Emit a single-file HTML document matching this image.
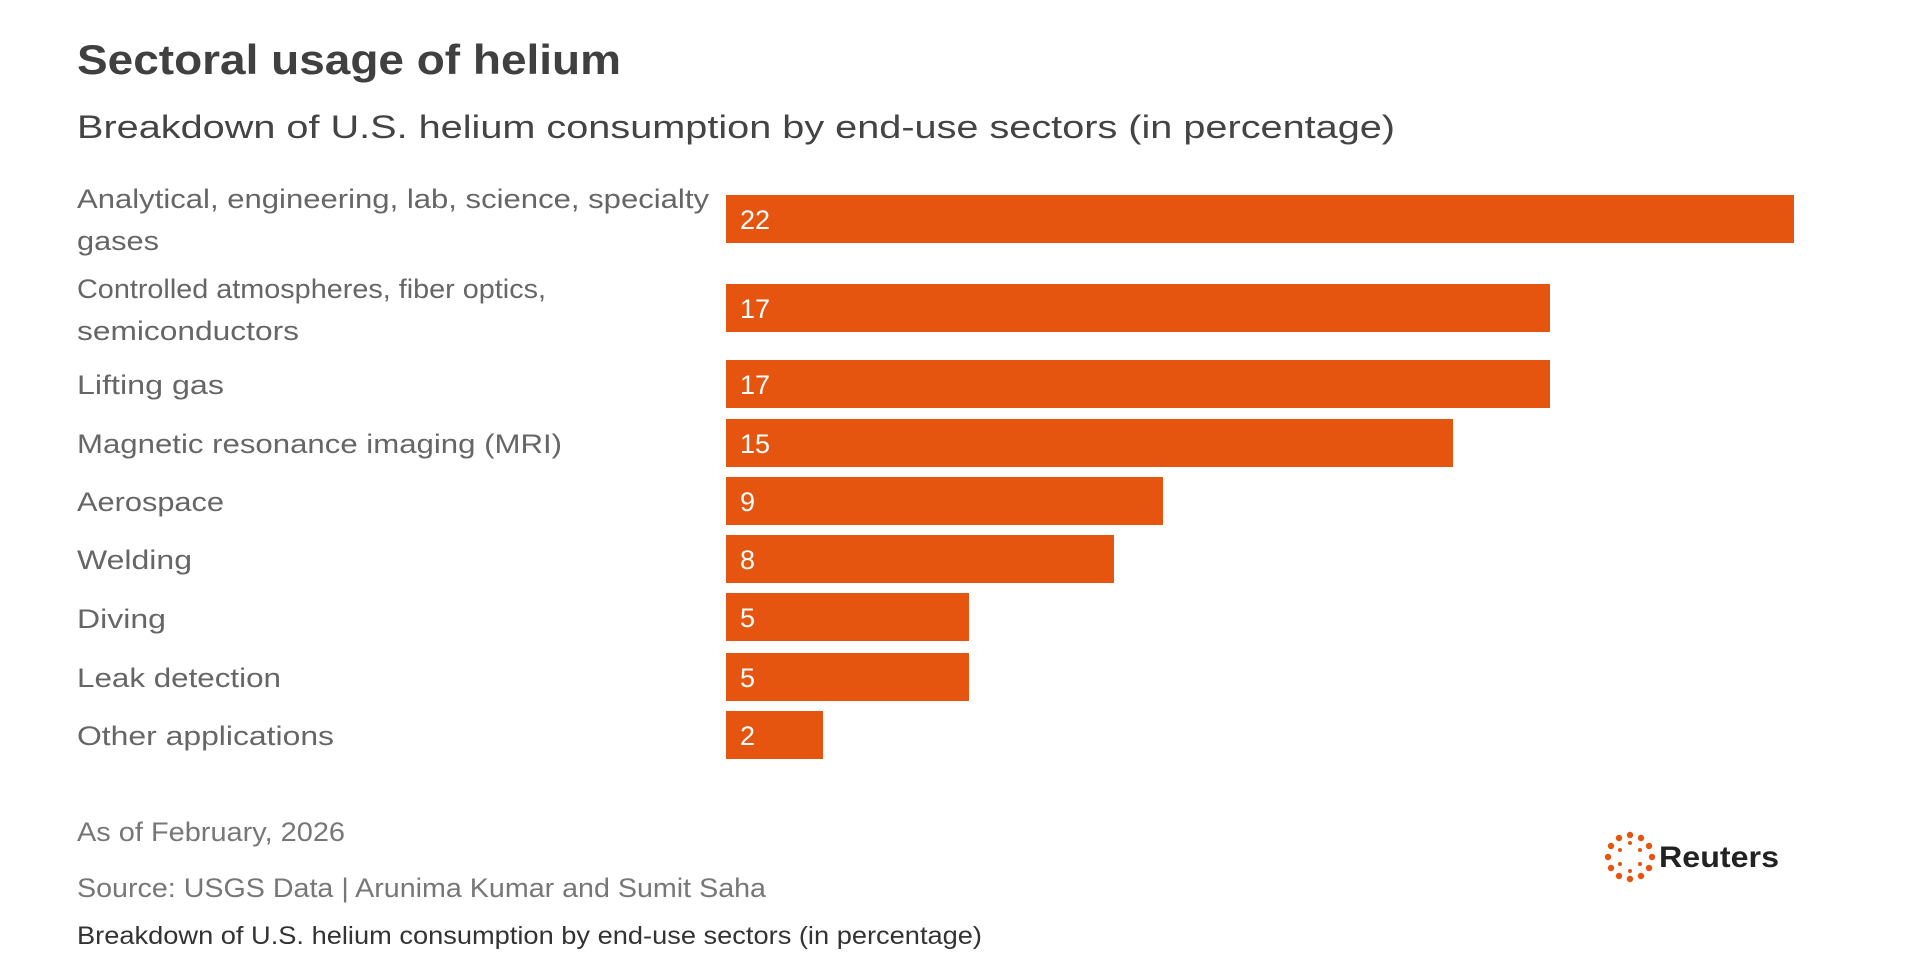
<!DOCTYPE html>
<html><head><meta charset="utf-8"><style>
html,body{margin:0;padding:0;background:#fff;}
svg{display:block;}
text{font-family:"Liberation Sans",sans-serif;}
</style></head><body>
<svg width="1931" height="964" viewBox="0 0 1931 964" xmlns="http://www.w3.org/2000/svg">
<rect width="1931" height="964" fill="#fff"/>
<text x="77" y="74" font-size="42" font-weight="bold" fill="#404040" textLength="544" lengthAdjust="spacingAndGlyphs">Sectoral usage of helium</text>
<text x="77" y="138" font-size="32" fill="#444" textLength="1318" lengthAdjust="spacingAndGlyphs">Breakdown of U.S. helium consumption by end-use sectors (in percentage)</text>
<g font-size="27" fill="#666">
<text x="77" y="208" textLength="632" lengthAdjust="spacingAndGlyphs">Analytical, engineering, lab, science, specialty</text>
<text x="77" y="250" textLength="82" lengthAdjust="spacingAndGlyphs">gases</text>
<text x="77" y="298" textLength="469" lengthAdjust="spacingAndGlyphs">Controlled atmospheres, fiber optics,</text>
<text x="77" y="340" textLength="222" lengthAdjust="spacingAndGlyphs">semiconductors</text>
<text x="77" y="394" textLength="147" lengthAdjust="spacingAndGlyphs">Lifting gas</text>
<text x="77" y="453" textLength="485" lengthAdjust="spacingAndGlyphs">Magnetic resonance imaging (MRI)</text>
<text x="77" y="511" textLength="147" lengthAdjust="spacingAndGlyphs">Aerospace</text>
<text x="77" y="569" textLength="115" lengthAdjust="spacingAndGlyphs">Welding</text>
<text x="77" y="628" textLength="89" lengthAdjust="spacingAndGlyphs">Diving</text>
<text x="77" y="687" textLength="204" lengthAdjust="spacingAndGlyphs">Leak detection</text>
<text x="77" y="745" textLength="257" lengthAdjust="spacingAndGlyphs">Other applications</text>
</g>
<g fill="#e5550f">
<rect x="726" y="195" width="1068" height="48"/>
<rect x="726" y="284" width="824" height="48"/>
<rect x="726" y="360" width="824" height="48"/>
<rect x="726" y="419" width="727" height="48"/>
<rect x="726" y="477" width="437" height="48"/>
<rect x="726" y="535" width="388" height="48"/>
<rect x="726" y="593" width="243" height="48"/>
<rect x="726" y="653" width="243" height="48"/>
<rect x="726" y="711" width="97" height="48"/>
</g>
<g font-size="27" fill="#fff">
<text x="740" y="229">22</text>
<text x="740" y="318">17</text>
<text x="740" y="394">17</text>
<text x="740" y="453">15</text>
<text x="740" y="511">9</text>
<text x="740" y="569">8</text>
<text x="740" y="627">5</text>
<text x="740" y="687">5</text>
<text x="740" y="745">2</text>
</g>
<text x="77" y="841" font-size="27" fill="#777" textLength="268" lengthAdjust="spacingAndGlyphs">As of February, 2026</text>
<text x="77" y="897" font-size="27" fill="#777" textLength="689" lengthAdjust="spacingAndGlyphs">Source: USGS Data | Arunima Kumar and Sumit Saha</text>
<text x="77" y="944" font-size="25" fill="#333" textLength="905" lengthAdjust="spacingAndGlyphs">Breakdown of U.S. helium consumption by end-use sectors (in percentage)</text>
<g fill="#e5550f">
<circle cx="1630" cy="835" r="3.2"/><circle cx="1641" cy="838" r="3.2"/><circle cx="1649" cy="846" r="3.2"/>
<circle cx="1652" cy="857" r="3.2"/><circle cx="1649" cy="868" r="3.2"/><circle cx="1641" cy="876" r="3.2"/>
<circle cx="1630" cy="879" r="3.2"/><circle cx="1619" cy="876" r="3.2"/><circle cx="1611" cy="868" r="3.2"/>
<circle cx="1608" cy="857" r="3.2"/><circle cx="1611" cy="846" r="3.2"/><circle cx="1619" cy="838" r="3.2"/>
<circle cx="1630" cy="843" r="2"/><circle cx="1640" cy="850" r="2"/><circle cx="1640" cy="864" r="2"/>
<circle cx="1630" cy="871" r="2"/><circle cx="1620" cy="864" r="2"/><circle cx="1620" cy="850" r="2"/>
</g>
<text x="1659" y="867" font-size="30" font-weight="bold" fill="#222" textLength="120" lengthAdjust="spacingAndGlyphs">Reuters</text>
</svg>
</body></html>
